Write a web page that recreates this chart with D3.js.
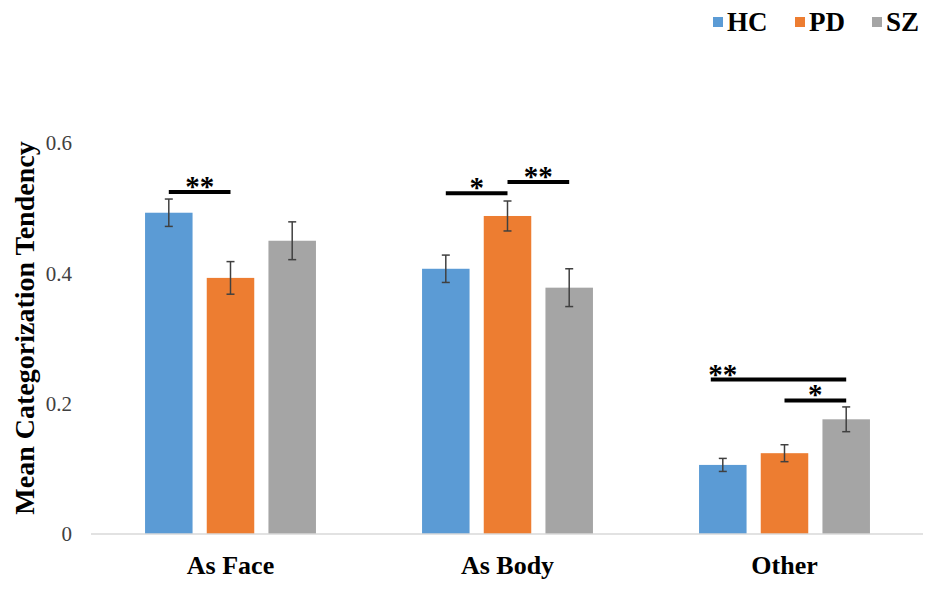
<!DOCTYPE html>
<html>
<head>
<meta charset="utf-8">
<script src="https://cdn.jsdelivr.net/npm/d3@7"></script>
<style>
  body { margin: 0; background: #fff; }
  text { font-family: "Liberation Serif", "Times New Roman", serif; }
</style>
</head>
<body>
<div id="chart"></div>
<script>
// data
const categories = ["As Face", "As Body", "Other"];
const groups = ["HC", "PD", "SZ"];
const colors = ["#5B9BD5", "#ED7D31", "#A5A5A5"];
const hcValues = [0.493, 0.407, 0.106];
const pdValues = [0.393, 0.488, 0.124];
const szValues = [0.450, 0.378, 0.176];
const hcErrors = [0.021, 0.021, 0.010];
const pdErrors = [0.025, 0.023, 0.013];
const szErrors = [0.029, 0.029, 0.019];
const yTicks = [0, 0.2, 0.4, 0.6];
// significance brackets: category, from group, to group, height, stars, star placed over
const sigLines = [
    { cat: "As Face", from: "HC", to: "PD", y: 0.525, label: "**", at: null },
    { cat: "As Body", from: "HC", to: "PD", y: 0.523, label: "*", at: null },
    { cat: "As Body", from: "PD", to: "SZ", y: 0.540, label: "**", at: null },
    { cat: "Other", from: "HC", to: "SZ", y: 0.237, label: "**", at: "HC" },
    { cat: "Other", from: "PD", to: "SZ", y: 0.205, label: "*", at: null }
];

const width = 935, height = 590;
const margin = { top: 143, right: 12, bottom: 56, left: 92 };

const svg = d3.select("#chart").append("svg")
    .attr("width", width)
    .attr("height", height);

const values = [hcValues, pdValues, szValues];
const errors = [hcErrors, pdErrors, szErrors];
const rows = [];
categories.forEach((c, i) => {
    groups.forEach((g, j) => {
        rows.push({ cat: c, group: g, value: values[j][i], err: errors[j][i], color: colors[j] });
    });
});

// scales
const x0 = d3.scaleBand()
    .domain(categories)
    .range([margin.left, width - margin.right])
    .paddingInner(0.383)
    .paddingOuter(0.1915);

const x1 = d3.scaleBand()
    .domain(groups)
    .range([0, x0.bandwidth()])
    .paddingInner(0.23);

const y = d3.scaleLinear()
    .domain([0, 0.6])
    .range([height - margin.bottom, margin.top]);

const cx = (cat, g) => x0(cat) + x1(g) + x1.bandwidth() / 2;

// y axis (labels only)
const yAxis = svg.append("g")
    .attr("transform", `translate(${margin.left - 20},0)`)
    .call(d3.axisLeft(y).tickValues(yTicks).tickFormat(d => d === 0 ? "0" : d3.format(".1f")(d)).tickSize(0).tickPadding(0));
yAxis.select(".domain").remove();
yAxis.selectAll("text")
    .attr("font-family", "Liberation Serif, serif")
    .attr("font-size", "21px")
    .attr("fill", "#404040");

// y title
svg.append("text")
    .attr("transform", `translate(34, 328) rotate(-90)`)
    .attr("text-anchor", "middle")
    .attr("font-size", "28px")
    .attr("font-weight", "bold")
    .attr("fill", "#000")
    .text("Mean Categorization Tendency");

// bars
svg.append("g").selectAll("rect")
    .data(rows)
    .join("rect")
    .attr("x", d => x0(d.cat) + x1(d.group))
    .attr("y", d => y(d.value))
    .attr("width", x1.bandwidth())
    .attr("height", d => y(0) - y(d.value))
    .attr("fill", d => d.color);

// x axis line + labels
const xAxis = svg.append("g")
    .attr("transform", `translate(0,${y(0)})`)
    .call(d3.axisBottom(x0).tickSize(0).tickPadding(22));
xAxis.select(".domain")
    .attr("d", `M${margin.left - 1},0H${width - margin.right}`)
    .attr("stroke", "#d9d9d9")
    .attr("stroke-width", 1.5);
xAxis.selectAll("text")
    .attr("font-family", "Liberation Serif, serif")
    .attr("font-size", "26px")
    .attr("font-weight", "bold")
    .attr("fill", "#000");

// error bars
const eb = svg.append("g")
    .attr("stroke", "#404040")
    .attr("stroke-width", 1.5);
eb.selectAll("line.v")
    .data(rows)
    .join("line")
    .attr("x1", d => cx(d.cat, d.group))
    .attr("x2", d => cx(d.cat, d.group))
    .attr("y1", d => y(d.value + d.err))
    .attr("y2", d => y(d.value - d.err));
eb.selectAll("line.top")
    .data(rows)
    .join("line")
    .attr("x1", d => cx(d.cat, d.group) - 4)
    .attr("x2", d => cx(d.cat, d.group) + 4)
    .attr("y1", d => y(d.value + d.err))
    .attr("y2", d => y(d.value + d.err));
eb.selectAll("line.bot")
    .data(rows)
    .join("line")
    .attr("x1", d => cx(d.cat, d.group) - 4)
    .attr("x2", d => cx(d.cat, d.group) + 4)
    .attr("y1", d => y(d.value - d.err))
    .attr("y2", d => y(d.value - d.err));

// significance lines + stars
const sig = svg.append("g");
sigLines.forEach(s => {
    const xa = cx(s.cat, s.from), xb = cx(s.cat, s.to);
    sig.append("line")
        .attr("x1", s.at ? xa - 12 : xa).attr("x2", xb)
        .attr("y1", y(s.y)).attr("y2", y(s.y))
        .attr("stroke", "#000")
        .attr("stroke-width", 4);
    const lx = s.at ? cx(s.cat, s.at) : (xa + xb) / 2;
    sig.append("text")
        .attr("x", lx)
        .attr("y", y(s.y) + 4)
        .attr("text-anchor", "middle")
        .attr("font-size", "29px")
        .attr("font-weight", "bold")
        .attr("fill", "#000")
        .text(s.label);
});

// legend
const legend = svg.append("g");
const legendX = [713, 795, 872];
groups.forEach((g, i) => {
    legend.append("rect")
        .attr("x", legendX[i])
        .attr("y", 17)
        .attr("width", 10)
        .attr("height", 10)
        .attr("fill", colors[i]);
    legend.append("text")
        .attr("x", legendX[i] + 14)
        .attr("y", 31)
        .attr("font-size", "27px")
        .attr("font-weight", "bold")
        .attr("fill", "#000")
        .text(g);
});
</script>
</body>
</html>
